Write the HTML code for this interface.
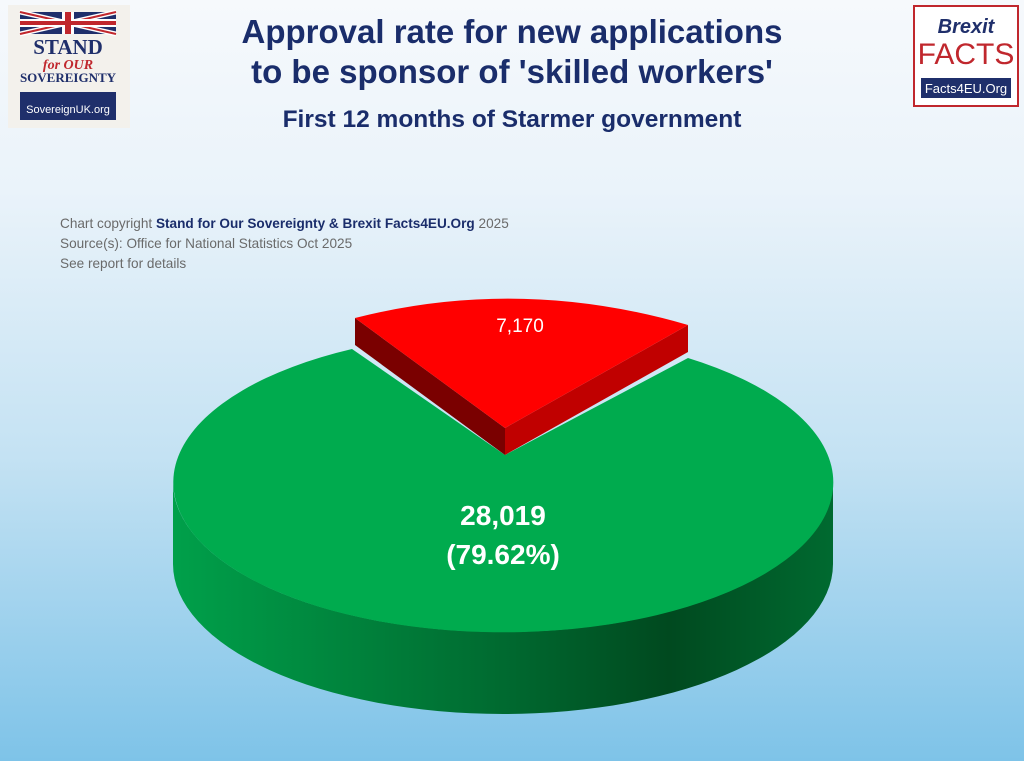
<!DOCTYPE html>
<html><head><meta charset="utf-8"><style>
body{margin:0;width:1024px;height:761px;overflow:hidden;font-family:"Liberation Sans",sans-serif}
.bg{position:absolute;left:0;top:0;width:1024px;height:761px;background:linear-gradient(#f6f9fc 0%,#eaf3fa 25%,#c4e2f3 60%,#7ec3e8 100%)}
.t{position:absolute;left:0;width:1024px;text-align:center;color:#1a2d6b;font-weight:bold}
.c{position:absolute;left:60px;font-size:13.6px;color:#6a6a6a}
</style></head><body>
<div class="bg"></div>
<div class="t" style="top:13px;font-size:33px">Approval rate for new applications</div>
<div class="t" style="top:53px;font-size:33px">to be sponsor of 'skilled workers'</div>
<div class="t" style="top:106px;font-size:24.5px">First 12 months of Starmer government</div>
<div class="c" style="top:216px">Chart copyright <b style="color:#1a2d6b">Stand for Our Sovereignty &amp; Brexit Facts4EU.Org</b> 2025</div>
<div class="c" style="top:236px">Source(s): Office for National Statistics Oct 2025</div>
<div class="c" style="top:256px">See report for details</div>

<svg style="position:absolute;left:0;top:0" width="1024" height="761">
<defs>
<linearGradient id="gs" x1="0" x2="1"><stop offset="0" stop-color="#00a04a"/><stop offset="0.5" stop-color="#006a30"/><stop offset="0.75" stop-color="#00491f"/><stop offset="1" stop-color="#006a30"/></linearGradient>
</defs>
<rect x="8" y="5" width="122" height="123" fill="#f3f1ec"/>
<rect x="20" y="12" width="96" height="22" fill="#1f2f6b"/>
<path d="M20 12L116 34M116 12L20 34" stroke="#fff" stroke-width="5"/>
<path d="M20 12L116 34M116 12L20 34" stroke="#c0272d" stroke-width="2"/>
<rect x="62" y="12" width="12" height="22" fill="#fff"/><rect x="20" y="19" width="96" height="8" fill="#fff"/>
<rect x="65" y="12" width="6" height="22" fill="#c0272d"/><rect x="20" y="21" width="96" height="4" fill="#c0272d"/>
<text x="68" y="54" text-anchor="middle" font-family="Liberation Serif" font-weight="bold" font-size="21" fill="#1f2f6b">STAND</text>
<text x="68" y="69" text-anchor="middle" font-family="Liberation Serif" font-style="italic" font-weight="bold" font-size="14" fill="#c0272d">for OUR</text>
<text x="68" y="82" text-anchor="middle" font-family="Liberation Serif" font-weight="bold" font-size="13" fill="#1f2f6b">SOVEREIGNTY</text>
<rect x="20" y="92" width="96" height="28" fill="#1f2f6b"/>
<text x="68" y="113" text-anchor="middle" font-size="11" fill="#fff">SovereignUK.org</text>
<rect x="914" y="6" width="104" height="100" fill="#fff" stroke="#c0272d" stroke-width="2"/>
<text x="966" y="33" text-anchor="middle" font-weight="bold" font-style="italic" font-size="20" fill="#1f2f6b">Brexit</text>
<text x="966" y="64" text-anchor="middle" font-size="30" fill="#c0272d">FACTS</text>
<rect x="921" y="78" width="90" height="20" fill="#1f2f6b"/>
<text x="966" y="93" text-anchor="middle" font-size="13" fill="#fff">Facts4EU.Org</text>
<path d="M173 482 A330 150 0 0 0 833 482 L833 564 A330 150 0 0 1 173 564 Z" fill="url(#gs)"/>
<path d="M352 349 A330 150 0 1 0 688 358 L505 455 Z" fill="#00ab4e"/>
<path d="M355 318 L505 428 L505 455 L355 345 Z" fill="#7a0000"/>
<path d="M688 325 L505 428 L505 455 L688 352 Z" fill="#c00000"/>
<path d="M355 318 Q520 276 688 325 L505 428 Z" fill="#ff0000"/>
<text x="520" y="332" text-anchor="middle" font-size="19" fill="#fff">7,170</text>
<text x="503" y="525" text-anchor="middle" font-size="28" font-weight="bold" fill="#fff">28,019</text>
<text x="503" y="564" text-anchor="middle" font-size="28" font-weight="bold" fill="#fff">(79.62%)</text>
</svg>
</body></html>
